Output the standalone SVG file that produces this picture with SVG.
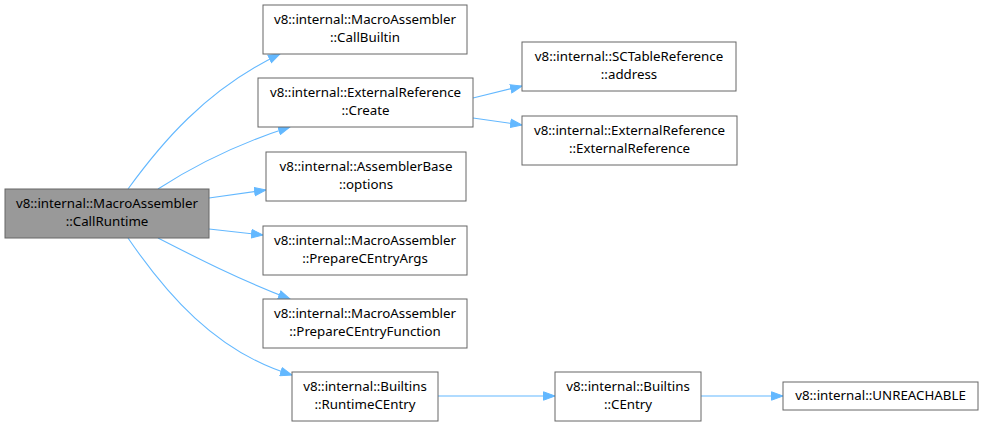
<svg xmlns="http://www.w3.org/2000/svg" width="983" height="426" viewBox="0 0 983 426">
<style>
.n rect{fill:#fff;stroke:#666;stroke-width:1}
.n text{font-family:"Noto Sans","DejaVu Sans",sans-serif;font-size:13.3px;fill:#000;text-anchor:middle}
.e path{fill:none;stroke:#63b8ff;stroke-width:1.1}
</style>
<defs>
<marker id="a" markerWidth="13" markerHeight="10" refX="12" refY="5" orient="auto" markerUnits="userSpaceOnUse">
<path d="M0.5,0.8 L12,5 L0.5,9.2 Z" fill="#63b8ff" stroke="#63b8ff" stroke-width="1"/>
</marker>
</defs>
<rect width="983" height="426" fill="#fff"/>
<g class="e">
<path d="M128,189 C160,145 205,90 280,54" marker-end="url(#a)"/>
<path d="M158,189 C195,165 240,143 290,127" marker-end="url(#a)"/>
<path d="M209,198 L266,190" marker-end="url(#a)"/>
<path d="M209,229 L263,235" marker-end="url(#a)"/>
<path d="M158,238 C195,257 240,280 290,299" marker-end="url(#a)"/>
<path d="M128,238 C165,292 215,352 292,375" marker-end="url(#a)"/>
<path d="M473,98 L522,86" marker-end="url(#a)"/>
<path d="M473,118 L522,125" marker-end="url(#a)"/>
<path d="M438,396 L555,396" marker-end="url(#a)"/>
<path d="M701,396 L783,396" marker-end="url(#a)"/>
</g>
<g id="callruntime" class="n"><rect x="5" y="189" width="204" height="49" style="fill:#999"/><text x="107" y="208">v8::internal::MacroAssembler</text><text x="107" y="226">::CallRuntime</text></g>
<g id="callbuiltin" class="n"><rect x="263" y="5" width="204" height="49"/><text x="365" y="24">v8::internal::MacroAssembler</text><text x="365" y="42">::CallBuiltin</text></g>
<g id="create" class="n"><rect x="258" y="78" width="215" height="49"/><text x="365.5" y="97">v8::internal::ExternalReference</text><text x="365.5" y="115">::Create</text></g>
<g id="sctable" class="n"><rect x="522" y="42" width="214" height="49"/><text x="629" y="61">v8::internal::SCTableReference</text><text x="629" y="79">::address</text></g>
<g id="extref" class="n"><rect x="522" y="116" width="215" height="49"/><text x="629.5" y="135">v8::internal::ExternalReference</text><text x="629.5" y="153">::ExternalReference</text></g>
<g id="options" class="n"><rect x="266" y="152" width="200" height="49"/><text x="366" y="171">v8::internal::AssemblerBase</text><text x="366" y="189">::options</text></g>
<g id="prepargs" class="n"><rect x="263" y="226" width="204" height="49"/><text x="365" y="245">v8::internal::MacroAssembler</text><text x="365" y="263">::PrepareCEntryArgs</text></g>
<g id="prepfunc" class="n"><rect x="263" y="299" width="204" height="49"/><text x="365" y="318">v8::internal::MacroAssembler</text><text x="365" y="336">::PrepareCEntryFunction</text></g>
<g id="runtimecentry" class="n"><rect x="292" y="372" width="146" height="49"/><text x="365" y="391">v8::internal::Builtins</text><text x="365" y="409">::RuntimeCEntry</text></g>
<g id="centry" class="n"><rect x="555" y="372" width="146" height="49"/><text x="628" y="391">v8::internal::Builtins</text><text x="628" y="409">::CEntry</text></g>
<g id="unreachable" class="n"><rect x="783" y="382" width="195" height="28"/><text x="880.5" y="400">v8::internal::UNREACHABLE</text></g>
</svg>
